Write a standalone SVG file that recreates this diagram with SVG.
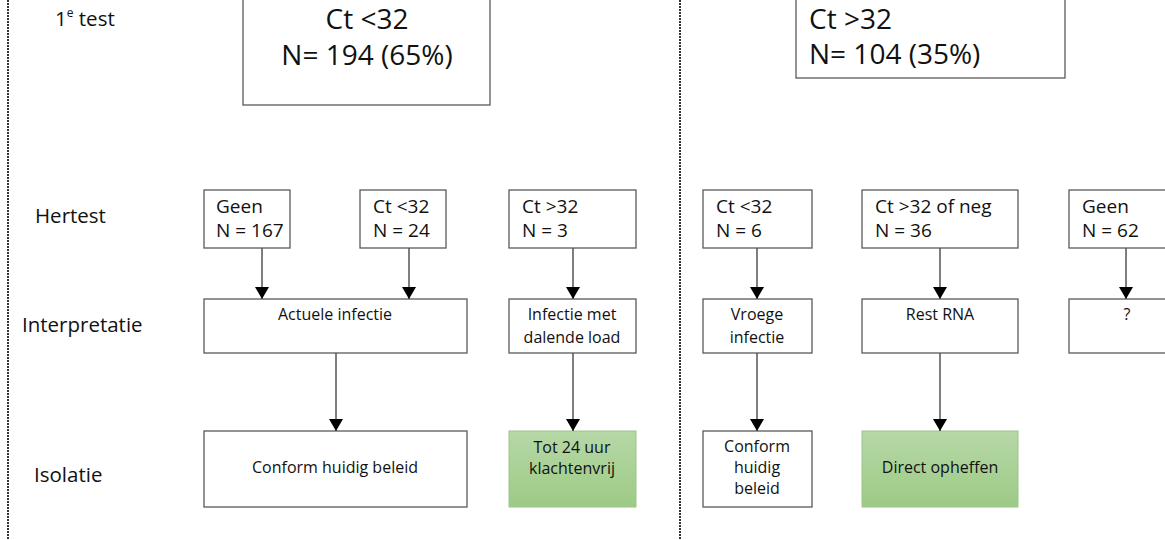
<svg xmlns="http://www.w3.org/2000/svg" width="1165" height="540" viewBox="0 0 1165 540">
<defs>
<marker id="ah" viewBox="0 0 12 14" refX="12" refY="7" markerWidth="12" markerHeight="14" markerUnits="userSpaceOnUse" orient="auto">
<path d="M0,0 L12,7 L0,14 Z" fill="#000"/>
</marker>
<linearGradient id="green" x1="0" y1="0" x2="0" y2="1">
<stop offset="0" stop-color="#b6d8a6"/>
<stop offset="1" stop-color="#9dca86"/>
</linearGradient>
</defs>
<style>
.box{fill:#fff;stroke:#5a5a5a;stroke-width:1.3}
.gbox{fill:url(#green);stroke:#9cc58a;stroke-width:1}
.t{font-family:"Open Sans","Noto Sans",sans-serif;fill:#111}
.big{font-size:28px}
.lbl{font-size:20.5px}
.mid{font-size:19px}
.sm{font-size:16px}
.c{text-anchor:middle}
.con{stroke:#555;stroke-width:1.5;fill:none;marker-end:url(#ah)}
.sep{stroke:#333;stroke-width:2;stroke-dasharray:2 1;fill:none}
</style>
<rect width="1165" height="540" fill="#fff"/>
<g id="separators">
<line class="sep" x1="8" y1="0" x2="8" y2="540"/>
<line class="sep" x1="680" y1="0" x2="680" y2="540"/>
</g>
<g id="row-labels">
<text class="t lbl" x="55" y="26">1<tspan font-size="12" dy="-9">e</tspan><tspan dy="9"> test</tspan></text>
<text class="t lbl" x="35" y="223">Hertest</text>
<text class="t lbl" x="22" y="332">Interpretatie</text>
<text class="t lbl" x="34" y="482">Isolatie</text>
</g>
<g id="first-low">
<rect class="box" x="243" y="-10" width="247" height="115"/>
<text class="t big c" x="367" y="29">Ct &lt;32</text>
<text class="t big c" x="367" y="65">N= 194 (65%)</text>
</g>
<g id="first-high">
<rect class="box" x="796" y="-10" width="269" height="88"/>
<text class="t big" x="809" y="29">Ct &gt;32</text>
<text class="t big" x="809" y="64">N= 104 (35%)</text>
</g>
<g id="re-geen-167">
<rect class="box" x="204" y="190" width="86" height="58"/>
<text class="t mid" x="216" y="213">Geen</text>
<text class="t mid" x="216" y="237">N = 167</text>
</g>
<g id="re-low-24">
<rect class="box" x="360" y="190" width="86" height="58"/>
<text class="t mid" x="373" y="213">Ct &lt;32</text>
<text class="t mid" x="373" y="237">N = 24</text>
</g>
<g id="re-high-3">
<rect class="box" x="509" y="190" width="127" height="58"/>
<text class="t mid" x="522" y="213">Ct &gt;32</text>
<text class="t mid" x="522" y="237">N = 3</text>
</g>
<g id="re-low-6">
<rect class="box" x="703" y="190" width="109" height="58"/>
<text class="t mid" x="716" y="213">Ct &lt;32</text>
<text class="t mid" x="716" y="237">N = 6</text>
</g>
<g id="re-high-36">
<rect class="box" x="862" y="190" width="156" height="58"/>
<text class="t mid" x="875" y="213">Ct &gt;32 of neg</text>
<text class="t mid" x="875" y="237">N = 36</text>
</g>
<g id="re-geen-62">
<rect class="box" x="1069" y="190" width="110" height="58"/>
<text class="t mid" x="1082" y="213">Geen</text>
<text class="t mid" x="1082" y="237">N = 62</text>
</g>
<g id="int-actueel">
<rect class="box" x="204" y="299" width="263" height="54"/>
<text class="t sm c" x="335" y="320">Actuele infectie</text>
</g>
<g id="int-dalend">
<rect class="box" x="509" y="299" width="127" height="54"/>
<text class="t sm c" x="572" y="320">Infectie met</text>
<text class="t sm c" x="572" y="343">dalende load</text>
</g>
<g id="int-vroeg">
<rect class="box" x="703" y="299" width="109" height="54"/>
<text class="t sm c" x="757" y="320">Vroege</text>
<text class="t sm c" x="757" y="343">infectie</text>
</g>
<g id="int-rest">
<rect class="box" x="862" y="299" width="156" height="54"/>
<text class="t sm c" x="940" y="320">Rest RNA</text>
</g>
<g id="int-onbekend">
<rect class="box" x="1069" y="299" width="110" height="54"/>
<text class="t sm c" x="1127" y="320">?</text>
</g>
<g id="iso-conform-1">
<rect class="box" x="204" y="431" width="263" height="76"/>
<text class="t sm c" x="335" y="473">Conform huidig beleid</text>
</g>
<g id="iso-24uur">
<rect class="gbox" x="509" y="431" width="127" height="76"/>
<text class="t sm c" x="572" y="453">Tot 24 uur</text>
<text class="t sm c" x="572" y="474">klachtenvrij</text>
</g>
<g id="iso-conform-2">
<rect class="box" x="703" y="431" width="109" height="76"/>
<text class="t sm c" x="757" y="452">Conform</text>
<text class="t sm c" x="757" y="473">huidig</text>
<text class="t sm c" x="757" y="494">beleid</text>
</g>
<g id="iso-opheffen">
<rect class="gbox" x="862" y="431" width="156" height="76"/>
<text class="t sm c" x="940" y="473">Direct opheffen</text>
</g>
<g id="connectors">
<line class="con" x1="262" y1="248" x2="262" y2="299"/>
<line class="con" x1="409" y1="248" x2="409" y2="299"/>
<line class="con" x1="573" y1="248" x2="573" y2="299"/>
<line class="con" x1="757" y1="248" x2="757" y2="299"/>
<line class="con" x1="940" y1="248" x2="940" y2="299"/>
<line class="con" x1="1126" y1="248" x2="1126" y2="299"/>
<line class="con" x1="336" y1="353" x2="336" y2="431"/>
<line class="con" x1="573" y1="353" x2="573" y2="431"/>
<line class="con" x1="757" y1="353" x2="757" y2="431"/>
<line class="con" x1="940" y1="353" x2="940" y2="431"/>
</g>
</svg>
